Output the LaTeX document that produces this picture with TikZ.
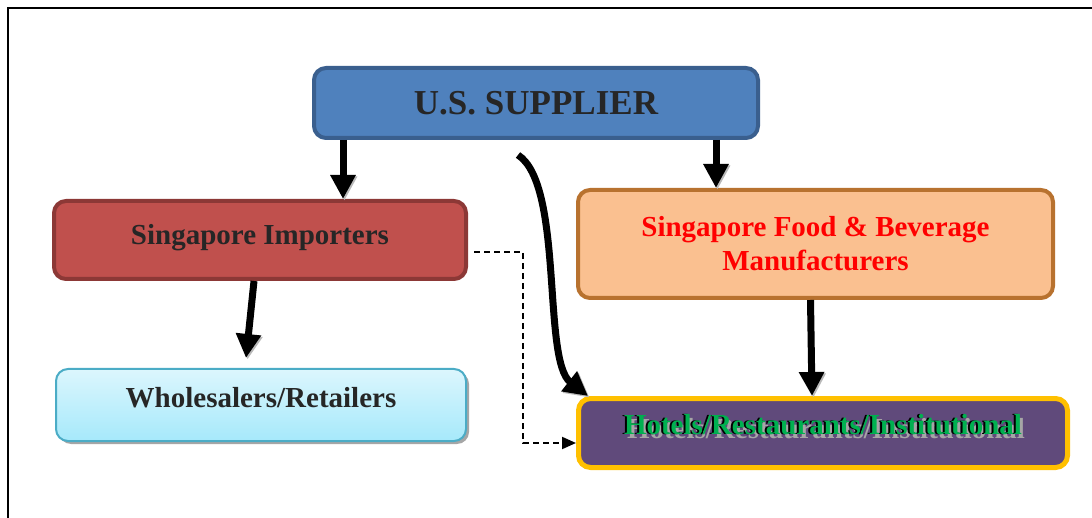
\documentclass[tikz,border=0pt]{standalone}
\usepackage{fontspec}
\setmainfont{Liberation Serif}
\usetikzlibrary{arrows.meta,shadows,calc}
\definecolor{usFill}{HTML}{4F81BD}
\definecolor{usDraw}{HTML}{3A5F8E}
\definecolor{impFill}{HTML}{C0504D}
\definecolor{impDraw}{HTML}{8C3836}
\definecolor{wsTop}{HTML}{DCF6FD}
\definecolor{wsBottom}{HTML}{A6E9FB}
\definecolor{wsDraw}{HTML}{4BACC6}
\definecolor{fbFill}{HTML}{FAC090}
\definecolor{fbDraw}{HTML}{B8722F}
\definecolor{hrFill}{HTML}{604A7B}
\definecolor{hrDraw}{HTML}{FFC000}
\definecolor{hrText}{HTML}{00B050}
\definecolor{boxText}{HTML}{262626}

\begin{document}
\begin{tikzpicture}[x=1pt,y=-1pt,
    every node/.style={font=\fontsize{29}{34}\selectfont\bfseries, inner sep=0pt, align=center},
    chanBox/.style={rounded corners=12pt, line width=4pt, text=boxText},
    bigArrow/.style={line width=7pt, -{Triangle[width=24pt,length=24pt]},
        preaction={draw=gray!55, transform canvas={xshift=1.5pt,yshift=-1.5pt}}},
    dashArrow/.style={line width=2pt, dash pattern=on 6pt off 4pt, -{Triangle[width=12pt,length=14pt]}}]
\useasboundingbox (0,0) rectangle (1092,518);
\draw[line width=1.2pt] (8,518) -- (8,8) -- (1092,8);

% boxes
\node[chanBox, fill=usFill, draw=usDraw, minimum width=444pt, minimum height=70pt,
    font=\fontsize{35}{40}\selectfont\bfseries] (us) at (536,103) {U.S. SUPPLIER};
\node[chanBox, fill=impFill, draw=impDraw, text depth=11pt, minimum width=412pt, minimum height=78pt] (imp) at (260,240) {Singapore Importers};
\node[chanBox, line width=2pt, draw=wsDraw, top color=wsTop, bottom color=wsBottom,
    drop shadow={shadow xshift=3pt, shadow yshift=-3pt, fill=gray!70, opacity=1},
    text depth=15pt, minimum width=410pt, minimum height=72pt] (ws) at (261,405) {Wholesalers/Retailers};
\node[chanBox, fill=fbFill, draw=fbDraw, text=red, minimum width=475pt, minimum height=108pt] (fb) at (815.5,244)
    {Singapore Food \& Beverage\\Manufacturers};
\node[chanBox, line width=5pt, fill=hrFill, draw=hrDraw, minimum width=489pt, minimum height=69pt] (hr) at (823,433) {};

% shadowed label of the last box
\node[text=gray!70] (hrShadow) at ([xshift=3pt,yshift=4pt]hr.center) {Hotels/Restaurants/Institutional};
\node[text=black] (hrDark) at ([xshift=-2pt,yshift=8.5pt]hr.center) {Hotels/Restaurants/Institutional};
\node[text=hrText] (hrLabel) at ([yshift=8pt]hr.center) {Hotels/Restaurants/Institutional};

% arrows
\draw[bigArrow] ([xshift=31pt]us.south west) -- ([xshift=31pt]us.south west |- imp.north);
\draw[bigArrow] ([xshift=-44pt]us.south east) -- ([xshift=-44pt]us.south east |- fb.north);
\draw[bigArrow] ([xshift=-6pt]imp.south) -- ([xshift=-15pt,yshift=10pt]ws.north);
\draw[bigArrow] ([xshift=-5pt]fb.south) -- ([xshift=-11pt]hr.north);
\draw[bigArrow] ([xshift=-18pt,yshift=-15pt]us.south)
    .. controls ([xshift=28pt,yshift=-45pt]us.south) and ([xshift=6pt,yshift=-220pt]us.south)
    .. ([xshift=12pt]hr.north west);
\draw[dashArrow] ([xshift=6pt,yshift=-12pt]imp.east) -- ++(49,0) |- ([yshift=-10pt]hr.west);
\end{tikzpicture}
\end{document}
